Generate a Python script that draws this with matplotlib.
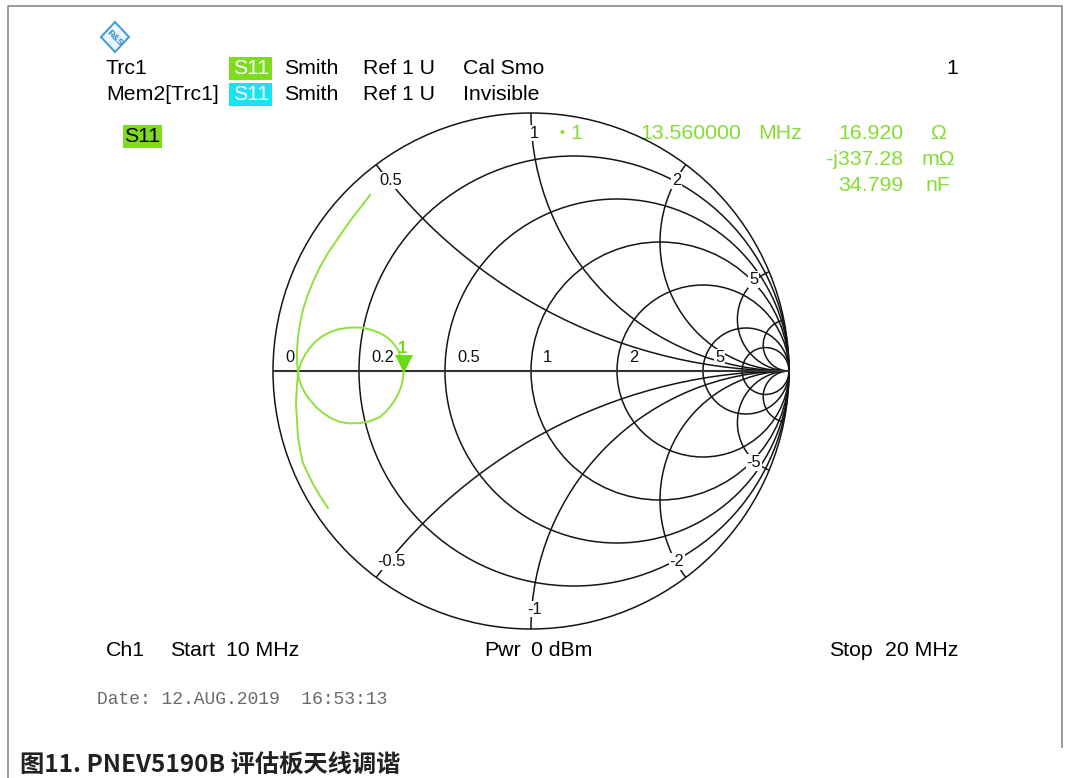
import matplotlib
matplotlib.use('Agg')
import matplotlib.pyplot as plt
from matplotlib.patches import Circle, Arc, Polygon, Rectangle
import numpy as np

W, H = 1065, 778

# ---------------- data ----------------
r_circles = [0.2, 0.5, 1, 2, 5, 10]          # constant-resistance circles
x_arcs = [0.5, 1, 2, 5, 10]                   # constant-reactance arcs (+/-)
r_label_values = [0, 0.2, 0.5, 1, 2, 5]
r_labels = ['0', '0.2', '0.5', '1', '2', '5']
x_label_values = [0.5, 1, 2, 5, -0.5, -1, -2, -5]
x_labels = ['0.5', '1', '2', '5', '-0.5', '-1', '-2', '-5']

# S11 trace, reflection coefficient (10 MHz .. 20 MHz)
trace_re = [-0.624, -0.659, -0.690, -0.721, -0.752, -0.787, -0.818, -0.845, -0.868,
            -0.884, -0.895, -0.903, -0.907, -0.907, -0.903,
            -0.890, -0.876, -0.858, -0.837, -0.810, -0.779, -0.746, -0.713, -0.682,
            -0.651, -0.617, -0.585, -0.557, -0.535, -0.516, -0.504, -0.496, -0.494,
            -0.496, -0.504, -0.517, -0.535, -0.558, -0.585, -0.622, -0.663, -0.702,
            -0.740, -0.775, -0.806, -0.834, -0.857, -0.875, -0.888, -0.898, -0.903,
            -0.907, -0.911, -0.907, -0.903, -0.895, -0.884, -0.864, -0.845, -0.818, -0.787]
trace_im = [0.682, 0.636, 0.597, 0.554, 0.508, 0.457, 0.403, 0.345, 0.287,
            0.236, 0.186, 0.132, 0.081, 0.035, -0.004,
            0.035, 0.062, 0.089, 0.112, 0.134, 0.151, 0.162, 0.167, 0.169,
            0.167, 0.159, 0.147, 0.130, 0.109, 0.083, 0.054, 0.027, 0.000,
            -0.031, -0.062, -0.094, -0.124, -0.153, -0.178, -0.194, -0.202, -0.203,
            -0.198, -0.183, -0.163, -0.139, -0.112, -0.087, -0.062, -0.035, -0.008,
            -0.054, -0.124, -0.190, -0.256, -0.306, -0.357, -0.399, -0.438, -0.484, -0.531]

marker_re, marker_im = -0.494, 0.000
marker_name = '1'
marker_freq = '13.560000'
marker_freq_unit = 'MHz'
marker_values = ['16.920', '-j337.28', '34.799']
marker_units = ['Ω', 'mΩ', 'nF']

header_row1 = ['Trc1', 'S11', 'Smith', 'Ref 1 U', 'Cal Smo']
header_row2 = ['Mem2[Trc1]', 'S11', 'Smith', 'Ref 1 U', 'Invisible']
footer = ['Ch1', 'Start', '10 MHz', 'Pwr', '0 dBm', 'Stop', '20 MHz']
date_text = 'Date: 12.AUG.2019  16:53:13'
caption = '图11. PNEV5190B 评估板天线调谐'

# ---------------- style ----------------
GREEN_BOX = '#7ddc1f'
CYAN_BOX = '#19e3f0'
GREEN_TXT = '#86dc34'
TRACE = '#8fe03c'
GRID = '#151515'
SANS = ['Liberation Sans', 'DejaVu Sans']

fig = plt.figure(figsize=(W / 100, H / 100), dpi=100)
fig.patch.set_facecolor('white')

# pixel-coordinate overlay axes
pa = fig.add_axes([0, 0, 1, 1])
pa.set_xlim(0, W)
pa.set_ylim(H, 0)
pa.axis('off')
pa.patch.set_alpha(0)

# frame
pa.plot([8, 8, 1062, 1062], [778, 6, 6, 748], color='#8a8a8a', lw=1.2, solid_capstyle='butt')

# logo
diamond = Polygon([[115, 22], [129, 37], [115, 52], [101, 37]], closed=True,
                  facecolor='#eaf4fb', edgecolor='#3d9ad4', lw=1.4)
pa.add_patch(diamond)
pa.text(115, 37.5, 'R&S', fontsize=6.5, color='#2f86c4', ha='center', va='center',
        family=SANS, fontweight='bold', rotation=-45)

FS = 15.3
# header rows
rows = [(68, header_row1, GREEN_BOX), (94, header_row2, CYAN_BOX)]
xs = [106, 251, 284, 363, 463]
for y, items, boxc in rows:
    pa.add_patch(Rectangle((229, y - 11.5), 43, 23, facecolor=boxc, edgecolor='none'))
    for i, (x, t) in enumerate(zip(xs, items)):
        if i == 1:
            pa.text(x, y, t, fontsize=FS, color='white', ha='center', va='center', family=SANS)
        else:
            pa.text(x, y, t, fontsize=FS, color='black', ha='left', va='center', family=SANS)
pa.text(952, 68, '1', fontsize=FS, color='black', ha='center', va='center', family=SANS)

# left S11 label
pa.add_patch(Rectangle((123, 125), 39, 23, facecolor=GREEN_BOX, edgecolor='none'))
pa.text(142.5, 136.5, 'S11', fontsize=FS, color='black', ha='center', va='center', family=SANS)

# marker info
pa.text(560, 133, '•', fontsize=10, color=GREEN_TXT, ha='left', va='center', family=SANS)
pa.text(570, 133, marker_name, fontsize=FS, color=GREEN_TXT, ha='left', va='center', family=SANS)
pa.text(640, 133, marker_freq, fontsize=FS, color=GREEN_TXT, ha='left', va='center', family=SANS)
pa.text(758, 133, marker_freq_unit, fontsize=FS, color=GREEN_TXT, ha='left', va='center', family=SANS)
for y, v, u in zip([133, 159, 185], marker_values, marker_units):
    pa.text(903, y, v, fontsize=FS, color=GREEN_TXT, ha='right', va='center', family=SANS)
    pa.text(938, y, u, fontsize=FS, color=GREEN_TXT, ha='center', va='center', family=SANS)

# footer
for x, t in zip([106, 170, 226, 484, 531, 829, 885], footer):
    pa.text(x, 651, t, fontsize=FS, color='black', ha='left', va='center', family=SANS)

pa.text(97, 700, date_text, fontsize=13, color='#6a6a6a', ha='left', va='center',
        family=['Liberation Mono', 'DejaVu Sans Mono'])

pa.text(20, 766, caption, fontsize=17.5, color='#222222', ha='left', va='center',
        family=['Noto Sans CJK SC', 'DejaVu Sans'], fontweight='bold')

# ---------------- Smith chart ----------------
CX, CY, R = 531, 371, 258
L = 1.15
ax = fig.add_axes([(CX - L * R) / W, 1 - (CY + L * R) / H, 2 * L * R / W, 2 * L * R / H])
ax.set_xlim(-L, L)
ax.set_ylim(-L, L)
ax.axis('off')
ax.patch.set_alpha(0)

glw = 1.1
ax.add_patch(Circle((0, 0), 1, fill=False, edgecolor=GRID, lw=glw, zorder=2))
for r in r_circles:
    ax.add_patch(Circle((r / (1 + r), 0), 1 / (1 + r), fill=False, edgecolor=GRID, lw=glw, zorder=2))
for x in x_arcs:
    g0 = (1j * x - 1) / (1j * x + 1)
    th = np.degrees(np.arctan2(g0.imag - 1 / x, g0.real - 1)) % 360
    ax.add_patch(Arc((1, 1 / x), 2 / x, 2 / x, theta1=th, theta2=270, edgecolor=GRID, lw=glw, zorder=2))
    ax.add_patch(Arc((1, -1 / x), 2 / x, 2 / x, theta1=90, theta2=360 - th, edgecolor=GRID, lw=glw, zorder=2))
ax.plot([-1, 1], [0, 0], color='#333333', lw=1.5, zorder=2, solid_capstyle='butt')

LFS = 11.8
bb = dict(facecolor='white', edgecolor='none', pad=0.6)
for v, t in zip(r_label_values, r_labels):
    g = (v - 1) / (v + 1)
    ax.text(g + 12 / R, 6.5 / R, t, fontsize=LFS, ha='left', va='bottom', family=SANS,
            color='#111111', bbox=bb, zorder=3)
for v, t in zip(x_label_values, x_labels):
    g0 = (1j * v - 1) / (1j * v + 1)
    p = g0 * (1 - 20 / R)
    ax.text(p.real + 3 / R, p.imag, t, fontsize=LFS, ha='center', va='center', family=SANS,
            color='#111111', bbox=bb, zorder=3)

# trace
ax.plot(trace_re, trace_im, color=TRACE, lw=1.4, zorder=4, solid_joinstyle='round')
# marker
ax.plot([marker_re], [marker_im + 7 / R], marker='v', markersize=13.5, color='#6cdc10',
        markeredgewidth=0, zorder=5)
ax.text(marker_re - 1 / R, marker_im + 23 / R, marker_name, fontsize=11.5, color='#6cdc10',
        ha='center', va='center', family=SANS, fontweight='bold', zorder=5)

fig.savefig('out.png', dpi=100, facecolor='white')
